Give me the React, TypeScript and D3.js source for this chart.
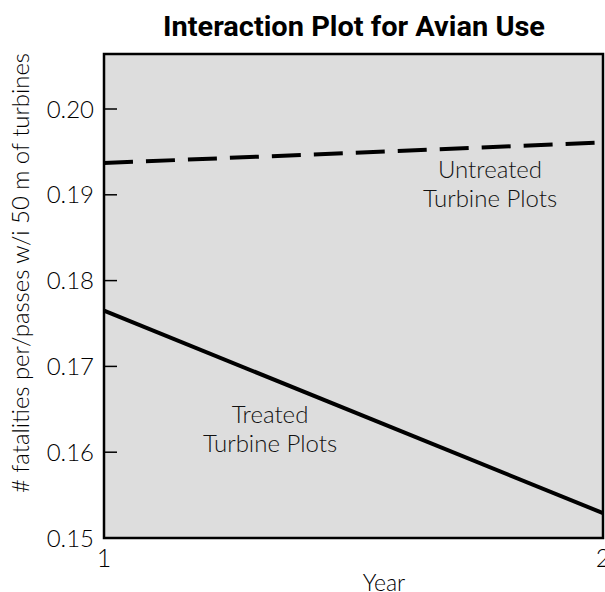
import React from "react";
import * as d3 from "d3";

const years = [1, 2];
const untreated = [0.1937, 0.1961];
const treated = [0.1765, 0.1529];
const yTicks = [0.15, 0.16, 0.17, 0.18, 0.19, 0.2];
const xTicks = [1, 2];
const title = "Interaction Plot for Avian Use";
const yLabel = "# fatalities per/passes w/i 50 m of turbines";
const xLabel = "Year";

export default function App() {
  const W = 605, H = 592;
  const left = 104, right = 603, top = 54, bottom = 538;
  const x = d3.scaleLinear().domain([1, 2]).range([left, right]);
  const y = d3.scaleLinear().domain([0.15, 0.2]).range([bottom, 109]);
  const line = d3.line<number>().x((_, i) => x(years[i])).y((d) => y(d));
  const font = "Lato, 'Open Sans', sans-serif";
  return (
    <svg width={W} height={H} style={{ position: "absolute", left: 0, top: 0 }}>
      <rect x={0} y={0} width={W} height={H} fill="#fff" />
      <text x={354} y={36} textAnchor="middle" fontFamily="Roboto, 'DejaVu Sans', sans-serif" fontWeight="bold" fontSize={27} textLength={382} lengthAdjust="spacingAndGlyphs" fill="#000">{title}</text>
      <rect x={left} y={top} width={right - left} height={bottom - top} fill="#dddddd" />
      {yTicks.map((t) => (
        <g key={t}>
          {t > 0.15 && <line x1={left} x2={left + 13} y1={y(t)} y2={y(t)} stroke="#000" strokeWidth={1.5} />}
          <text x={94} y={y(t) + 8.5} textAnchor="end" fontFamily={font} fontWeight={300} fontSize={24} fill="#000">{t.toFixed(2)}</text>
        </g>
      ))}
      {xTicks.map((t) => (
        <text key={t} x={x(t)} y={567} textAnchor="middle" fontFamily={font} fontWeight={300} fontSize={25} fill="#000">{t}</text>
      ))}
      <text x={384} y={591} textAnchor="middle" fontFamily={font} fontWeight={300} fontSize={23} fill="#000">{xLabel}</text>
      <text transform={`translate(29,273) rotate(-90)`} textAnchor="middle" fontFamily={font} fontWeight={300} fontSize={23} textLength={440} lengthAdjust="spacingAndGlyphs" fill="#000">{yLabel}</text>
      <path d={line(untreated) || ""} fill="none" stroke="#000" strokeWidth={4} strokeDasharray="29 13" />
      <path d={line(treated) || ""} fill="none" stroke="#000" strokeWidth={4} />
      <rect x={left} y={top} width={right - left} height={bottom - top} fill="none" stroke="#000" strokeWidth={2.5} />
      <g fontFamily={font} fontWeight={300} fontSize={24} fill="#111" textAnchor="middle">
        <text x={490} y={178}>Untreated</text>
        <text x={490} y={207}>Turbine Plots</text>
        <text x={270} y={423}>Treated</text>
        <text x={270} y={452}>Turbine Plots</text>
      </g>
    </svg>
  );
}
